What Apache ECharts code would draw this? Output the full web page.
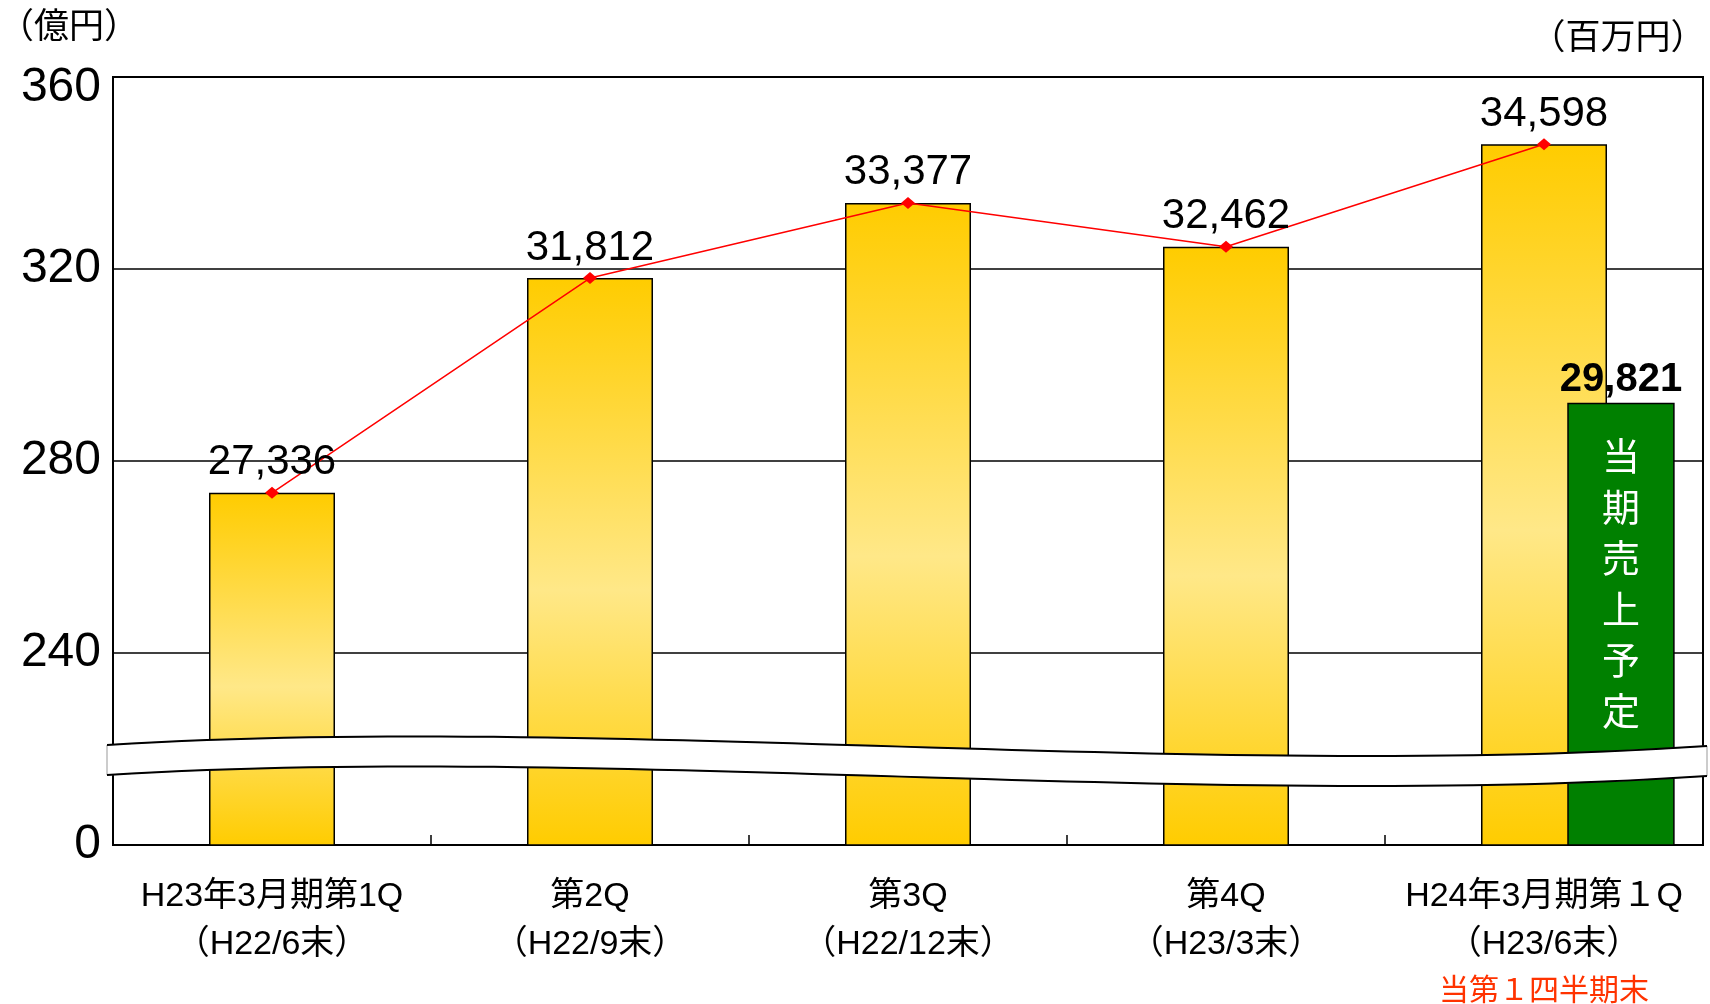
<!DOCTYPE html>
<html>
<head>
<meta charset="utf-8">
<style>
  html, body { margin: 0; padding: 0; background: #fff; }
  #chart { width: 1710px; height: 1004px; }
</style>
<script src="https://cdn.jsdelivr.net/npm/echarts@6/dist/echarts.min.js"></script>
</head>
<body>
<div id="chart"></div>
<script>
// カテゴリ（四半期末）
const categories = ['H23年3月期第1Q\n（H22/6末）', '第2Q\n（H22/9末）', '第3Q\n（H22/12末）', '第4Q\n（H23/3末）', 'H24年3月期第１Q\n（H23/6末）'];
const lastNote = '当第１四半期末';

// 売上高（百万円）
const salesMillion = [27336, 31812, 33377, 32462, 34598];

// 当期売上予定
const planLabel = 29821;
const planBar = 292; // 億円, 図から読取り
const planText = '当期売上予定';

// y軸（億円）: 下端は波線で省略、0 と表示
const yMin = 200, yMax = 360, yStep = 40;

const FONT = "'Liberation Sans', 'Noto Sans CJK JP', sans-serif";
const salesOku = salesMillion.map(v => v / 100);
const fmt = v => v.toLocaleString('en-US');

// 省略線（波）の形
function bandEdge(dy) {
  const p = [[107, 745], [600, 714], [1200, 780], [1707, 746]];
  const pts = [];
  for (let i = 0; i <= 60; i++) {
    const t = i / 60, s = 1 - t;
    const x = s*s*s*p[0][0] + 3*s*s*t*p[1][0] + 3*s*t*t*p[2][0] + t*t*t*p[3][0];
    const y = s*s*s*p[0][1] + 3*s*s*t*p[1][1] + 3*s*t*t*p[2][1] + t*t*t*p[3][1];
    pts.push([x, y + dy]);
  }
  return pts;
}
const topEdge = bandEdge(0);
const bottomEdge = bandEdge(30);

let myChart = echarts.init(document.getElementById('chart'));

let option = {
  animation: false,
  textStyle: { fontFamily: FONT },
  grid: {
    left: 113,
    right: 7,
    top: 77,
    bottom: 159,
    outerBoundsMode: 'none',
    containLabel: false,
    show: true,
    borderColor: '#000',
    borderWidth: 2
  },
  xAxis: {
    type: 'category',
    data: categories,
    axisLine: { lineStyle: { color: '#000', width: 2 } },
    axisTick: { show: true, inside: true, length: 10, lineStyle: { color: '#000', width: 1.5 } },
    axisLabel: {
      margin: 28,
      color: '#000',
      fontSize: 34,
      lineHeight: 48,
      fontFamily: FONT,
      interval: 0,
      formatter: function (v, i) {
        return i === categories.length - 1 ? v + '\n{red|' + lastNote + '}' : v;
      },
      rich: {
        red: { color: '#FF3300', fontSize: 30, lineHeight: 46, fontFamily: FONT }
      }
    }
  },
  yAxis: {
    type: 'value',
    min: yMin,
    max: yMax,
    interval: yStep,
    axisLine: { show: true, lineStyle: { color: '#000', width: 2 } },
    axisTick: { show: false },
    splitLine: { lineStyle: { color: '#000', width: 1.5 } },
    axisLabel: {
      color: '#000',
      fontSize: 48,
      margin: 12,
      fontFamily: FONT,
      formatter: v => (v === yMin ? '0' : v === yMax ? '{top|' + v + '}' : String(v)),
      rich: {
        top: { fontSize: 48, color: '#000', fontFamily: FONT, padding: [21, 0, 0, 0] }
      }
    }
  },
  series: [
    {
      type: 'bar',
      data: salesOku,
      barWidth: 126,
      z: 2,
      itemStyle: {
        borderColor: '#000',
        borderWidth: 1.5,
        color: new echarts.graphic.LinearGradient(0, 0, 0, 1, [
          { offset: 0, color: '#FFCC00' },
          { offset: 0.55, color: '#FFE888' },
          { offset: 1, color: '#FFCC00' }
        ])
      }
    },
    {
      type: 'line',
      data: salesOku,
      z: 3,
      symbol: 'diamond',
      symbolSize: [14, 12],
      itemStyle: { color: '#FF0000' },
      lineStyle: { color: '#FF0000', width: 1.5 },
      label: {
        show: true,
        position: 'top',
        distance: 3,
        color: '#000',
        fontSize: 42,
        fontFamily: FONT,
        formatter: p => fmt(salesMillion[p.dataIndex])
      }
    },
    {
      type: 'custom',
      z: 4,
      data: [[categories.length - 1, planBar]],
      encode: { x: 0, y: 1 },
      renderItem: function (params, api) {
        const top = api.coord([api.value(0), api.value(1)]);
        const base = api.coord([api.value(0), yMin]);
        const band = api.size([1, 0])[0];
        const w = band * 0.333;
        const cx = top[0] + band * 0.242;
        return {
          type: 'group',
          children: [
            {
              type: 'rect',
              shape: { x: cx - w / 2, y: top[1], width: w, height: base[1] - top[1] },
              style: { fill: '#008000', stroke: '#000', lineWidth: 1.5 }
            },
            {
              type: 'text',
              x: cx,
              y: top[1] - 3,
              style: {
                text: fmt(planLabel),
                fill: '#000',
                font: 'bold 40px ' + FONT,
                align: 'center',
                verticalAlign: 'bottom'
              }
            },
            {
              type: 'text',
              x: cx,
              y: top[1] + 31,
              style: {
                text: planText.split('').join('\n'),
                fill: '#fff',
                font: '38px ' + FONT,
                lineHeight: 51,
                align: 'center',
                verticalAlign: 'top'
              }
            }
          ]
        };
      }
    }
  ],
  graphic: [
    {
      type: 'text', x: 69, y: 28,
      style: { text: '（億円）', fill: '#000', font: '35px ' + FONT, align: 'center', verticalAlign: 'middle' }
    },
    {
      type: 'text', x: 1618, y: 39,
      style: { text: '（百万円）', fill: '#000', font: '35px ' + FONT, align: 'center', verticalAlign: 'middle' }
    },
    {
      type: 'polygon', z: 100,
      shape: { points: topEdge.concat(bottomEdge.slice().reverse()) },
      style: { fill: '#fff', stroke: '#999', lineWidth: 1 }
    },
    {
      type: 'polyline', z: 101,
      shape: { points: topEdge },
      style: { stroke: '#000', lineWidth: 2, fill: null }
    },
    {
      type: 'polyline', z: 101,
      shape: { points: bottomEdge },
      style: { stroke: '#000', lineWidth: 2, fill: null }
    }
  ]
};

myChart.setOption(option);
window.onresize = function () {
  myChart.resize();
};
</script>
</body>
</html>
